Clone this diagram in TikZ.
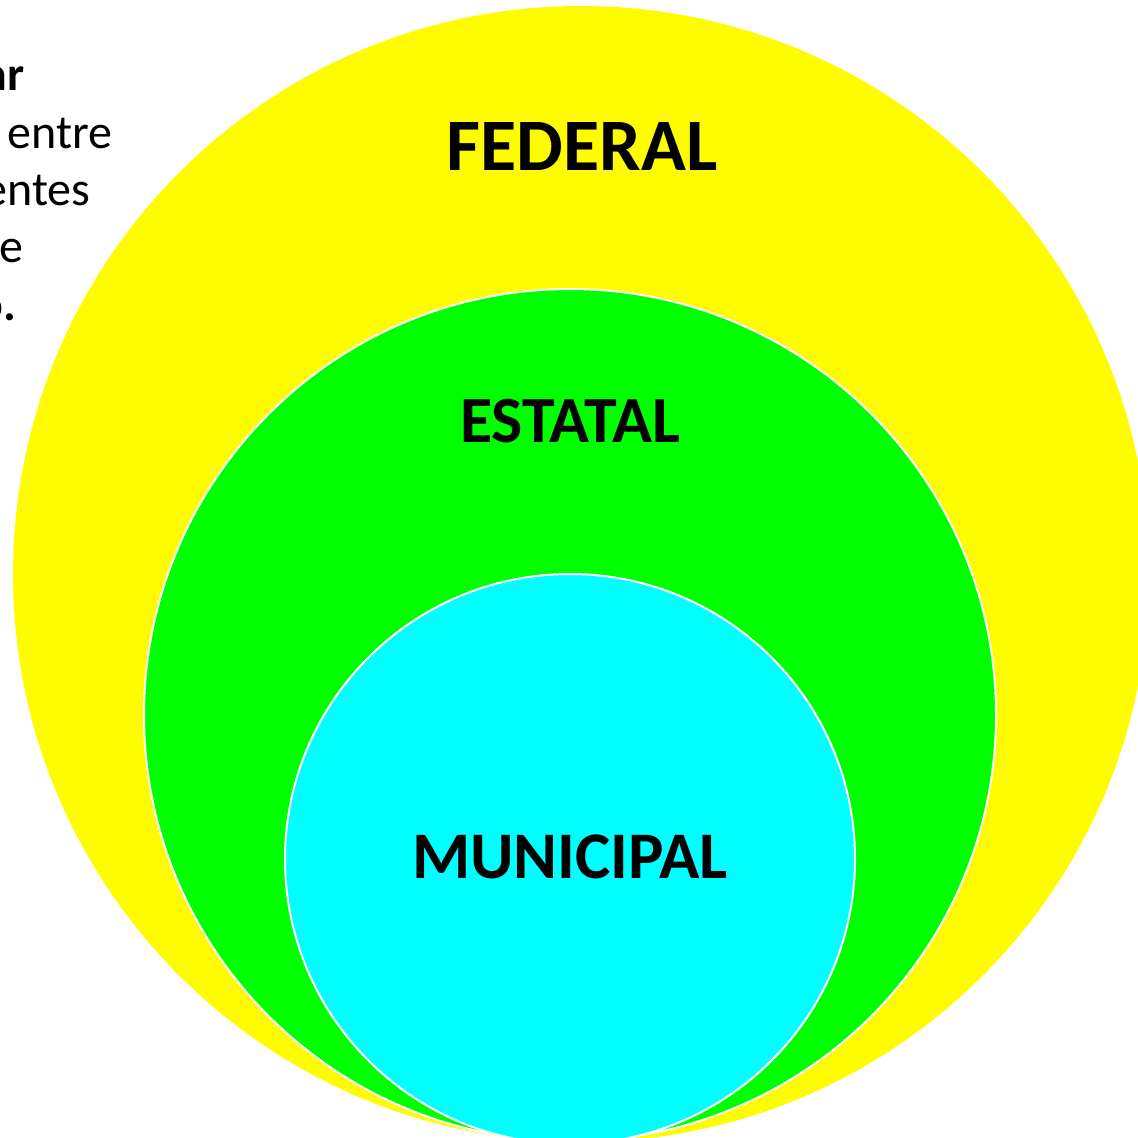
\documentclass[tikz,border=0pt]{standalone}
\usepackage{fontspec}
\setmainfont{Carlito}
\definecolor{fedyellow}{RGB}{255,252,0}
\definecolor{estgreen}{RGB}{0,255,0}
\definecolor{muncyan}{RGB}{0,255,255}
\begin{document}
\begin{tikzpicture}[x=0.5pt,y=-0.5pt,
  ring/.style={draw=white,line width=1pt},
  biglabel/.style={font=\bfseries, text=black, inner sep=0pt},
  sidetext/.style={font=\fontsize{24pt}{30pt}\selectfont, text=black, inner sep=0pt, anchor=base east}]
\useasboundingbox (0,0) rectangle (1138,1137);
\clip (0,0) rectangle (1138,1137);
\fill[white] (0,0) rectangle (1138,1137);
% side text (cut off at the left edge)
\node[sidetext, font=\fontsize{24pt}{30pt}\selectfont\bfseries] (t1) at (25,90) {ar};
\node[sidetext] (t2) at (113,148) {entre};
\node[sidetext] (t3) at (91,205) {entes};
\node[sidetext] (t4) at (24,262) {e};
\node[sidetext, font=\fontsize{24pt}{30pt}\selectfont\bfseries] (t5) at (17,320) {o.};
% circles
\fill[fedyellow] (581,574) circle[radius=284pt];
\filldraw[ring, fill=estgreen] (570,715) circle[radius=213pt];
\filldraw[ring, fill=muncyan] (570,859) circle[radius=142.5pt];
% labels
\node[biglabel, font=\fontsize{37pt}{40pt}\selectfont\bfseries] (fed) at (582,146) {FEDERAL};
\node[biglabel, font=\fontsize{33pt}{38pt}\selectfont\bfseries] (est) at (570,421) {ESTATAL};
\node[biglabel, font=\fontsize{33.3pt}{38pt}\selectfont\bfseries] (mun) at (570,857) {MUNICIPAL};
\end{tikzpicture}
\end{document}
